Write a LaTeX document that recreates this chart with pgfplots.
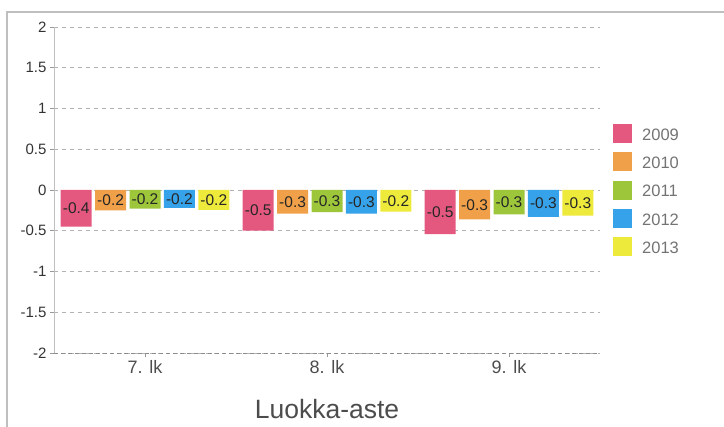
\documentclass[border=0pt]{standalone}
\usepackage{pgfplots}
\pgfplotsset{compat=1.18}
\usepackage{fontspec}
\setmainfont{Liberation Sans}

\definecolor{c09}{HTML}{E4587F}
\definecolor{c10}{HTML}{F0A048}
\definecolor{c11}{HTML}{9DC63B}
\definecolor{c12}{HTML}{36A2EA}
\definecolor{c13}{HTML}{EEEA3C}

\begin{document}
\begin{tikzpicture}
\useasboundingbox (0,0) rectangle (724bp,427bp);
\draw[black!25, line width=1.3bp] (7bp,0) -- (7bp,415bp) -- (724bp,415bp);
\begin{axis}[
    at={(54bp,74bp)}, anchor=south west,
    scale only axis, width=546bp, height=326bp,
    xmin=-0.5, xmax=2.5, ymin=-2, ymax=2,
    ybar=3.4bp, bar width=31bp,
    xtick={0,1,2}, xticklabels={7. lk, 8. lk, 9. lk},
    ytick={-2,-1.5,-1,-0.5,0,0.5,1,1.5,2},
    /pgf/number format/assume math mode=true,
    axis x line*=bottom, axis y line*=left,
    x axis line style={black!45, dash pattern=on 4bp off 3bp},
    y axis line style={black!25},
    tick align=outside, major tick length=4bp,
    tick style={black!40, line width=0.8bp},
    ymajorgrids, grid style={black!30, line width=0.8bp, dash pattern=on 4bp off 4bp},
    yticklabel style={font=\fontsize{15bp}{17bp}\selectfont, text=black!80},
    xticklabel style={font=\fontsize{18bp}{20bp}\selectfont, text=black!70},
    xlabel={Luokka-aste},
    xlabel style={at={(axis description cs:0.5,0)}, anchor=north, inner sep=0pt,
        yshift=-46bp, font=\fontsize{26.5bp}{30bp}\selectfont, text=black!70},
    point meta=explicit symbolic,
    nodes near coords,
    visualization depends on={y \as \ry},
    every node near coord/.append style={anchor=center, yshift={-40.75bp*(\ry)},
        font=\fontsize{15.5bp}{17bp}\selectfont, text=black!85, inner sep=0.5bp},
    legend style={at={(1.0238,0.7025)}, anchor=north west, draw=none, fill=none,
        inner sep=0pt, font=\fontsize{16.5bp}{19bp}\selectfont, text=black!55,
        row sep=9.3bp, nodes={inner sep=0pt}},
    legend cell align=left,
    legend image code/.code={\fill[#1] (0bp,-8bp) rectangle (19bp,11bp); \path (29bp,0);},
]
\addplot[fill=c09, draw=none] coordinates {(0,-0.45) [-0.4] (1,-0.50) [-0.5] (2,-0.54) [-0.5]};
\addplot[fill=c10, draw=none] coordinates {(0,-0.25) [-0.2] (1,-0.29) [-0.3] (2,-0.36) [-0.3]};
\addplot[fill=c11, draw=none] coordinates {(0,-0.23) [-0.2] (1,-0.27) [-0.3] (2,-0.30) [-0.3]};
\addplot[fill=c12, draw=none] coordinates {(0,-0.22) [-0.2] (1,-0.29) [-0.3] (2,-0.33) [-0.3]};
\addplot[fill=c13, draw=none] coordinates {(0,-0.245) [-0.2] (1,-0.265) [-0.2] (2,-0.315) [-0.3]};
\legend{2009,2010,2011,2012,2013}
\end{axis}
\end{tikzpicture}
\end{document}
